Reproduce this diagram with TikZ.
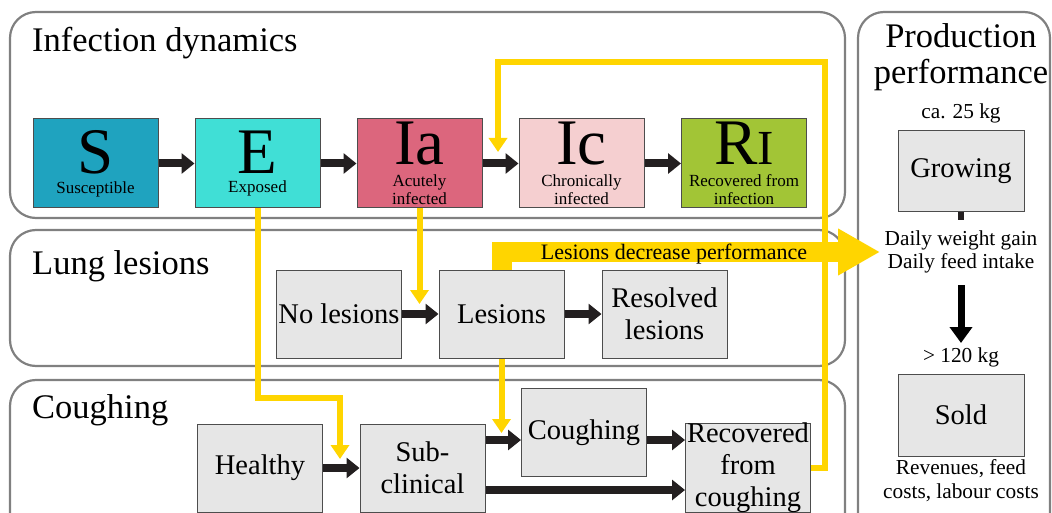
\documentclass[tikz,border=0pt]{standalone}
\usepackage{fontspec}
\setmainfont{Liberation Serif}
\usetikzlibrary{arrows.meta}
\definecolor{pgray}{HTML}{808080}
\definecolor{bgray}{HTML}{E6E6E6}
\definecolor{bedge}{HTML}{4D4D4D}
\definecolor{ylw}{HTML}{FFD500}
\definecolor{dark}{HTML}{231F20}
\definecolor{cS}{HTML}{1FA3BF}
\definecolor{cE}{HTML}{40DFD6}
\definecolor{cIa}{HTML}{DC667D}
\definecolor{cIc}{HTML}{F5CFD0}
\definecolor{cR}{HTML}{A2C536}
\begin{document}
\begin{tikzpicture}[x=1pt,y=-1pt,
  panel/.style={draw=pgray,line width=2.2pt,rounded corners=26pt},
  ptitle/.style={anchor=base west,inner sep=0pt,font=\fontsize{34.5}{38}\selectfont},
  gbox/.style={draw=bedge,line width=1pt,fill=bgray,minimum width=125pt,minimum height=88pt,inner sep=0pt,align=center,font=\fontsize{28.5}{32}\selectfont},
  cbox/.style={draw=bedge,line width=1pt,minimum width=125pt,minimum height=89pt,inner sep=0pt},
  bigl/.style={anchor=base,inner sep=0pt,font=\fontsize{65}{65}\selectfont},
  smalll/.style={inner sep=0pt,align=center,font=\fontsize{17}{18}\selectfont},
  ptext/.style={inner sep=0pt,align=center,font=\fontsize{21.3}{23}\selectfont},
  barrow/.style={draw=dark,line width=8pt,-{Triangle[width=20pt,length=13pt]}},
  yarrow/.style={draw=ylw,line width=6pt,-{Triangle[width=18pt,length=14pt]}},
]
\useasboundingbox (0,0) rectangle (1052,513);
% panels
\draw[panel] (10,12) rectangle (845,218);
\draw[panel] (10,230) rectangle (845,366);
\draw[panel] (10,380) rectangle (845,540);
\draw[panel] (858,12) rectangle (1050,540);
\node[ptitle] (t1) at (32,52) {Infection dynamics};
\node[ptitle] (t2) at (32,274) {Lung lesions};
\node[ptitle] (t3) at (32,418) {Coughing};
\node[anchor=base,inner sep=0pt,font=\fontsize{34.5}{38}\selectfont] (t4a) at (961,48) {Production};
\node[anchor=base,inner sep=0pt,font=\fontsize{34.5}{38}\selectfont] (t4b) at (961,84) {performance};

% infection boxes
\node[cbox,fill=cS] (S) at (95.5,163.5) {};
\node[cbox,fill=cE] (E) at (257.5,163.5) {};
\node[cbox,fill=cIa] (Ia) at (419.5,163.5) {};
\node[cbox,fill=cIc] (Ic) at (581.5,163.5) {};
\node[cbox,fill=cR] (R) at (744,163.5) {};
\node[bigl] (Sl) at (95.5,174) {S};
\node[bigl] (El) at (257.5,174) {E};
\node[bigl] (Ial) at (419.5,165) {Ia};
\node[bigl] (Icl) at (581.5,165) {Ic};
\node[bigl] (Rl) at (744,165) {R{\fontsize{49}{49}\selectfont I}};
\node[smalll] (Ss) at (95.5,189) {Susceptible};
\node[smalll] (Es) at (257.5,188) {Exposed};
\node[smalll] (Ias) at (419.5,190) {Acutely\\infected};
\node[smalll] (Ics) at (581.5,190) {Chronically\\infected};
\node[smalll] (Rs) at (744,190) {Recovered from\\infection};

% lung boxes
\node[gbox] (NoL) at (339,314) {No lesions};
\node[gbox] (Les) at (501.5,314) {Lesions};
\node[gbox] (Res) at (664.5,314) {Resolved\\lesions};

% coughing boxes
\node[gbox] (Hea) at (260,468) {Healthy};
\node[gbox] (Sub) at (422.5,468) {Sub-\\clinical};
\node[gbox] (Cou) at (584,432.5) {Coughing};
\node[gbox] (Rec) at (748,468) {Recovered\\from\\coughing};

% production
\node[ptext] (ca) at (961,113) {ca. 25 kg};
\node[gbox,minimum width=126pt,minimum height=81pt] (G) at (961,171.5) {Growing};
\node[ptext] (perf) at (961,252) {Daily weight gain\\Daily feed intake};
\node[ptext] (kg) at (961,357) {> 120 kg};
\node[gbox,minimum width=126pt,minimum height=82pt] (Sold) at (961,415) {Sold};
\node[ptext,font=\fontsize{21.3}{24}\selectfont] (rev) at (961,481) {Revenues, feed\\costs, labour costs};

% yellow connectors
\coordinate (y1c) at (340,398);
\coordinate (y1t) at (340,459);
\draw[yarrow] (E.south) |- (y1c) -- (y1t);
\coordinate (y2t) at (419.5,304);
\draw[yarrow] (Ia.south) -- (y2t);
\coordinate (y3t) at (501.5,433);
\draw[yarrow] (Les.south) -- (y3t);
\coordinate (y4a) at (825,62);
\coordinate (y4b) at (498,62);
\coordinate (y4t) at (498,152);
\draw[yarrow] (Rec.east) -| (y4a) -- (y4b) -- (y4t);
\coordinate (pt) at (880,252);
\draw[draw=ylw,line width=20pt,-{Triangle[width=44pt,length=42pt]}] (Les.north) |- (pt);
\node[anchor=base,inner sep=0pt,font=\fontsize{22}{24}\selectfont] (ldp) at (674,259) {Lesions decrease performance};

% black arrows
\draw[barrow] (S) -- (E);
\draw[barrow] (E) -- (Ia);
\draw[barrow] (Ia) -- (Ic);
\draw[barrow] (Ic) -- (R);
\draw[barrow] (NoL) -- (Les);
\draw[barrow] (Les) -- (Res);
\draw[barrow] (Hea) -- (Sub);
\coordinate (s1) at ([yshift=28pt]Sub.east);
\coordinate (s2) at ([yshift=-22pt]Sub.east);
\draw[barrow] (s1) -- (s1 -| Cou.west);
\draw[barrow] (s1 -| Cou.east) -- (s1 -| Rec.west);
\draw[barrow] (s2) -- (s2 -| Rec.west);
\coordinate (gb) at (961,220);
\draw[draw=dark,line width=6pt] (G.south) -- (gb);
\coordinate (ba) at (961,285);
\coordinate (bb) at (961,343);
\draw[draw=black,line width=7pt,-{Triangle[width=22pt,length=16pt]}] (ba) -- (bb);
\end{tikzpicture}
\end{document}
